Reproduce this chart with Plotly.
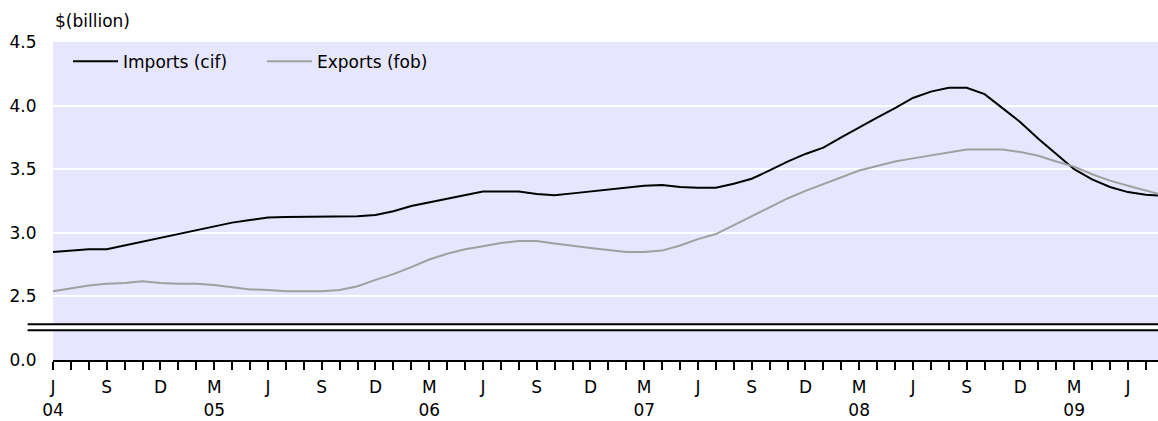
import plotly.graph_objects as go

# Month index 0 = June 2004, monthly through August 2009
months = list(range(63))
imports = [2.85, 2.86, 2.87, 2.87, 2.90, 2.93, 2.96, 2.99, 3.02, 3.05,
           3.08, 3.10, 3.12, 3.125, 3.125, 3.125, 3.125, 3.13, 3.14, 3.17,
           3.21, 3.24, 3.27, 3.30, 3.325, 3.325, 3.325, 3.305, 3.295, 3.31,
           3.325, 3.34, 3.36, 3.37, 3.375, 3.36, 3.355, 3.355, 3.385, 3.425,
           3.49, 3.56, 3.62, 3.67, 3.75, 3.83, 3.905, 3.98, 4.06, 4.11,
           4.14, 4.14, 4.09, 3.98, 3.87, 3.74, 3.62, 3.50, 3.42, 3.36,
           3.32, 3.30, 3.29]
exports = [2.54, 2.565, 2.585, 2.60, 2.605, 2.62, 2.605, 2.60, 2.60, 2.59,
           2.57, 2.555, 2.55, 2.54, 2.54, 2.54, 2.55, 2.58, 2.63, 2.675,
           2.73, 2.79, 2.835, 2.87, 2.895, 2.92, 2.935, 2.935, 2.915, 2.895,
           2.88, 2.865, 2.85, 2.85, 2.86, 2.90, 2.95, 2.99, 3.06, 3.13,
           3.20, 3.27, 3.33, 3.385, 3.44, 3.49, 3.525, 3.56, 3.585, 3.61,
           3.635, 3.655, 3.655, 3.655, 3.635, 3.605, 3.56, 3.52, 3.46, 3.41,
           3.37, 3.33, 3.295]

month_letters = ["J", "", "", "S", "", "", "D", "", "", "M", "", ""]
month_ticktext = [month_letters[m % 12] for m in range(62)]
year_tickvals = [0, 9, 21, 33, 45, 57]
year_ticktext = ["04", "05", "06", "07", "08", "09"]

y_tickvals = [2.0, 2.5, 3.0, 3.5, 4.0, 4.5]
y_ticktext = ["0.0", "2.5", "3.0", "3.5", "4.0", "4.5"]

FONT = "DejaVu Sans"

fig = go.Figure()
fig.add_trace(go.Scatter(x=months, y=imports, mode="lines", name="Imports (cif)",
                         line=dict(color="#000000", width=2)))
fig.add_trace(go.Scatter(x=months, y=exports, mode="lines", name="Exports (fob)",
                         line=dict(color="#a0a0a0", width=2)))
# invisible trace to carry the year axis
fig.add_trace(go.Scatter(x=[0], y=[None], xaxis="x2", showlegend=False,
                         hoverinfo="skip"))

fig.update_layout(
    width=1158, height=421,
    margin=dict(l=53, r=0, t=42, b=61),
    paper_bgcolor="white",
    plot_bgcolor="#e6e6ff",
    font=dict(family=FONT, size=17, color="black"),
    showlegend=True,
    legend=dict(orientation="h", x=0.0136, y=0.995, xanchor="left", yanchor="top",
                bgcolor="rgba(0,0,0,0)", font=dict(size=17),
                itemwidth=45, entrywidth=134, entrywidthmode="pixels"),
    xaxis=dict(range=[0, 61.68], tickmode="array", tickvals=list(range(62)),
               ticktext=month_ticktext, ticks="outside", ticklen=8, tickwidth=2,
               tickcolor="black", showline=True, linecolor="black", linewidth=2,
               showgrid=False, zeroline=False, ticklabelstandoff=3,
               automargin=False),
    xaxis2=dict(range=[0, 61.68], overlaying="x", side="bottom", anchor="y",
                tickmode="array", tickvals=year_tickvals, ticktext=year_ticktext,
                ticks="outside", ticklen=35, tickcolor="rgba(0,0,0,0)",
                showline=False, showgrid=False, zeroline=False, automargin=False),
    yaxis=dict(range=[2.0, 4.5], tickmode="array", tickvals=y_tickvals,
               ticktext=y_ticktext, showgrid=True, gridcolor="white", gridwidth=2,
               zeroline=False, showline=False, ticks="outside", ticklen=12,
               tickcolor="rgba(0,0,0,0)", automargin=False),
    annotations=[dict(text="$(billion)", xref="paper", yref="paper", x=0, y=1,
                      xanchor="left", yanchor="bottom", yshift=9, showarrow=False,
                      font=dict(size=17))],
    shapes=[
        dict(type="rect", xref="paper", yref="y", x0=-0.023, x1=1.0,
             y0=2.2334, y1=2.2807, fillcolor="white", line=dict(width=0), layer="above"),
        dict(type="line", xref="paper", yref="y", x0=-0.023, x1=1.0,
             y0=2.2807, y1=2.2807, line=dict(color="black", width=2), layer="above"),
        dict(type="line", xref="paper", yref="y", x0=-0.023, x1=1.0,
             y0=2.2334, y1=2.2334, line=dict(color="black", width=2), layer="above"),
    ],
)

# remove the default page margin so the 1158x421 figure fills the window exactly
fig.write_html("out.html",
               config={"displayModeBar": False},
               post_script="document.body.style.margin='0px';"
                           "document.body.style.overflow='hidden';")
